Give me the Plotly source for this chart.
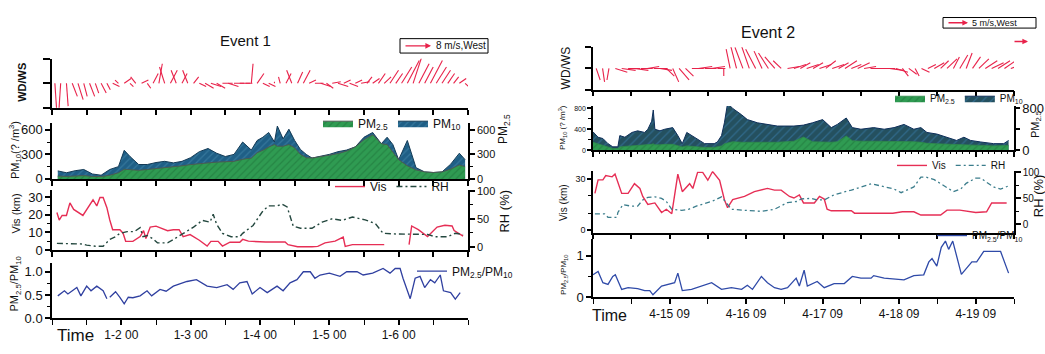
import pandas as pd
import plotly.graph_objects as go

W, H = 1045, 354
FONT = "Arial, Liberation Sans, sans-serif"


def px(x):
    return x / W


def py(y):
    return 1 - y / H


E1_START = pd.Timestamp("2000-01-01 00:00")
E1_END = pd.Timestamp("2000-01-07 00:00")
E2_START = pd.Timestamp("2000-04-14 09:00")
E2_END = pd.Timestamp("2000-04-19 21:00")

# ---------------- Event 1 data (hours since 1-1 00) ----------------
e1_xlabels = ["1-2 00", "1-3 00", "1-4 00", "1-5 00", "1-6 00"]
e1_xticks_h = [24, 48, 72, 96, 120]

e1_wind_h = list(range(1, 144, 2))
e1_wind_u = [0.5, -0.5, 0.5, 1.5, 1.5, 1, 1.5, 1, 1.5, 1, 2, -1, 2, 1, -1.5, 2, 1, 1.5,
             1, -1.5, 2, -1.5, 1.5, -1.5, 1.5, 2, 2.5, 3, 2.5, 3, 3, 3, 3, 2, 0.5, 2,
             2, 2, 0, -0.5, 1.5, -1.5, 1.5, 2, 2, 2.5, 3, 2, 2.5, 3, 2, 2.5, 2, 2.5,
             1.5, 2, 2, 2, 2.5, 2, 3, 3.5, 2.5, 3, 2.5, 3.5, 3, 2.5, 2, 1.5, 2, 1]
e1_wind_v = [-8, -8, -7, -4, -5, -4, -4, -3, -3, -2, -1, 1, 1.5, -1, 2, 1, -1.5, 3,
             6, 5, 4, 4, 3, 4, 2, -1, -1.5, -1, -1.5, 0, -1, 0, 0, 0, 6, 3,
             -1, -1, 0.5, 2, 3, 4, 3.5, 4, 1, 0, -1, -1.5, 0.5, -1, 1, -1, 1, 0.5,
             2, 1.5, 3, 2, 4, 3, 5, 7, 8, 6, 5, 7, 5, 4, 3, 2, 1.5, -1]

e1_pm_h = [2, 5, 8, 11, 14, 17, 20, 23, 25, 27, 30, 33, 36, 39, 42, 45, 48, 51, 54, 57,
           60, 63, 66, 69, 71, 73, 75, 77, 78, 80, 82, 84, 86, 88, 90, 93, 96, 99, 102,
           105, 108, 111, 114, 116, 118, 120, 123, 126, 129, 132, 135, 138, 141, 143]
e1_pm10 = [98, 75, 100, 115, 60, 45, 115, 150, 350, 274, 176, 176, 200, 215, 196, 215, 260,
           333, 372, 314, 274, 300, 451, 353, 470, 510, 568, 451, 647, 490, 608, 470, 360,
           300, 255, 274, 300, 333, 353, 392, 510, 568, 431, 510, 420, 235, 470, 137, 85,
           78, 85, 180, 314, 235]
e1_pm25 = [35, 30, 35, 40, 30, 28, 45, 75, 118, 115, 105, 115, 125, 140, 150, 160, 175,
           190, 196, 205, 210, 215, 240, 255, 320, 350, 390, 420, 400, 400, 420, 380, 300,
           260, 255, 270, 290, 310, 340, 392, 480, 540, 431, 420, 330, 235, 160, 110, 85,
           78, 85, 120, 170, 150]

e1_vis_h = [1.7, 2.5, 3.5, 5, 6.2, 7.5, 10.7, 13, 14.2, 15.5, 16.6, 17.7, 19, 20, 21, 23.5,
            24.6, 25.5, 28, 30.5, 31.7, 32.5, 34, 36, 38, 40, 42, 44, 45.4, 47.8, 51, 53.7,
            55, 57.5, 59, 61.6, 65, 66, 68, 70, 74, 77, 80.7, 81.7, 85, 90, 92, 94.5, 98,
            100.8, 101.5, 104, 115, 119, 123.6, 124.5, 126.8, 130, 133.3, 136, 138.5, 139.2,
            142.3]
e1_vis = [21.3, 17, 19.6, 19.6, 26.7, 23, 19.6, 25.8, 28.5, 25, 29.8, 29.8, 24, 17, 11.5,
          11.5, 9.5, 4.9, 4.9, 7.6, 11, 6.5, 13, 13.5, 12, 10.9, 11.5, 11.5, 7.6, 8.7, 5.5,
          2.2, 4.9, 4.9, 2.2, 4.4, 4.4, 6, 5, 4.7, 4.5, 4.5, 4.5, 3, 1.8, 1.8, 2, 4, 5,
          7.3, 2, 3, 3, None, 3, 13.6, 11.5, 7.6, 13, 14, 13.6, 11, 7.8]

e1_rh_h = [1.7, 6, 10.7, 12, 15, 17.7, 20, 22, 23.5, 26, 28.5, 30.5, 31.5, 33, 35, 36.5,
           40, 42, 45.4, 49, 52, 54.7, 55.8, 57, 59, 62, 65, 66, 69.6, 73, 75, 78, 79.6,
           81.4, 83.5, 86, 90, 93.5, 97, 100.4, 104, 108.4, 112, 114.6, 118, 124.7, 127,
           130, 132.6, 137, 139.6, 142.3]
e1_rh = [6, 6, 5, 3, 1, 1, 13, 18, 24, 27, 27, 34, 18, 20, 14, 7, 7, 13, 24, 35, 47, 44,
         58, 40, 24, 18, 18, 24, 38, 64, 73, 73, 76, 71, 37, 33, 33, 44, 50, 47, 53, 48,
         41, 24, 23, 23, 22, 22, 18, 18, 24, 22]

e1_ratio_h = [2, 3, 4.3, 5.5, 8.6, 10, 12, 13.5, 15.5, 17.7, 19, 19.5, 20, 22, 23.5, 25,
              26.4, 28, 30.5, 32.9, 34.5, 37.4, 39.5, 42, 46.7, 50, 53.7, 57, 60.6, 62.7,
              65, 67.5, 69.3, 72, 74.5, 77.9, 80, 82.4, 84.8, 87, 89.4, 91, 92.8, 96,
              99.7, 102, 105.6, 107.7, 111, 114.6, 117, 118.8, 120.5, 121.5, 124, 125.7,
              127.4, 129, 131, 132.5, 134.4, 135.5, 138, 139.6, 141.3]
e1_ratio = [0.48, 0.52, 0.59, 0.52, 0.66, 0.48, 0.69, 0.59, 0.69, 0.59, 0.42, None, 0.45,
            0.57, 0.45, 0.31, 0.45, 0.44, 0.48, 0.59, 0.48, 0.62, 0.58, 0.69, 0.79, 0.83,
            0.69, 0.66, 0.72, 0.62, 0.76, 0.79, 0.52, 0.66, 0.55, 0.69, 0.59, 0.76, 0.83,
            1.0, 1.0, 0.86, 0.93, 0.97, 0.9, 1.0, 1.0, 0.93, 0.97, 1.07, 0.97, 1.07, 1.07,
            0.86, 0.42, 0.86, 0.9, 0.66, 0.83, 0.76, 0.93, 0.59, 0.55, 0.41, 0.55]

# ---------------- Event 2 data (hours since 4-14 09) ----------------
e2_xlabels = ["4-15 09", "4-16 09", "4-17 09", "4-18 09", "4-19 09"]
e2_xticks_h = [24, 48, 72, 96, 120]

e2_wind_h = list(range(1, 132, 2))
e2_wind_u = [1, 0.5, -0.5, 3, 3.5, 3, 3.5, 3, 3, 3.5, 3, 2, 1.5, 2.5, 2, 3, 3.5, 3, 3.5,
             2, 0, -1, -1.5, -2, -2, -2.5, -2, -2.5, -2.5, -2, 3, 3, 2.5, 3, 2.5, 3, 2.5,
             3, 2.5, 3, 2.5, 3, 3, 3.5, 3.5, 3, 3.5, 3, 1.5, 2, 1, 2, 2, 2.5, 2, 2.5, 1.5,
             2, 1.5, 2, 2.5, 3, 3, 3, 3.5, 3]
e2_wind_v = [-3, -3.5, -3, -1, -0.5, 0, -0.5, 0, 0.5, 0, -0.5, -2, -3.5, -3, -2, 0, 0.5,
             0, 0.5, 0, -2, 5, 6, 5.5, 6, 5, 4.5, 4, 3, 2, 0.5, 1, 1.5, 1, 1.5, 1, 2, 1,
             1.5, 2, 1, 1.5, 0.5, 0, 0, 0, -0.5, -1, -2, -1.5, -2, -1, 1, 1.5, 2, 2.5, 3,
             3.5, 4, 3, 2.5, 2, 1.5, 2, 2.5, 1]

e2_pm_h = [0, 1.6, 3.1, 4.7, 6.2, 7.8, 8.4, 10, 12.2, 14, 16.2, 17.2, 18.4, 18.9, 19.4, 21,
           22.5, 25, 26.6, 28, 29.4, 31, 32.8, 35, 38, 39, 40.3, 41.2, 42.2, 43.8, 46.6,
           48.4, 51.6, 54.7, 57.8, 63, 66, 68.8, 72, 74.7, 76.6, 79.4, 81.3, 84, 88, 91.3,
           94.4, 97.5, 100.6, 102.8, 104.7, 107.8, 111, 114, 116.3, 118.4, 121.6, 125.6,
           128.8, 130.3]
e2_pm10 = [351, 246, 222, 124, 62, 62, 278, 247, 339, 370, 339, 401, 555, 771, 401, 370,
           401, 432, 278, 124, 339, 278, 222, 124, 124, 155, 278, 524, 900, 801, 678, 586,
           524, 493, 462, 462, 480, 524, 586, 432, 493, 617, 432, 401, 432, 401, 432, 493,
           401, 432, 339, 308, 247, 185, 247, 185, 155, 124, 124, 185]
e2_pm25 = [150, 120, 100, 60, 30, 30, 60, 70, 80, 90, 90, 100, 110, 120, 100, 100, 110,
           110, 90, 60, 80, 70, 60, 50, 50, 60, 80, 120, 140, 160, 150, 150, 140, 140, 150,
           170, 250, 160, 150, 150, 160, 270, 180, 170, 170, 170, 170, 170, 160, 150, 130,
           120, 110, 100, 100, 90, 90, 80, 80, 90]

e2_vis_h = [0.6, 1.6, 3.1, 4, 6, 6.9, 9, 11, 13, 14.7, 15.6, 17.2, 19.4, 21.5, 23, 24.7,
            26.6, 28, 30.3, 31.3, 32.8, 34.4, 36, 37.5, 39.7, 41.2, 42.2, 43.8, 47.5, 50.6,
            54.7, 56.9, 59, 61.6, 63, 64.7, 66, 69.4, 71, 72.5, 73.4, 74.7, 81, 82, 94, 97,
            100.6, 102.8, 109, 111, 115, 117, 120, 123.4, 125, 129.7]
e2_vis = [21.5, 29.4, 29.4, 31.9, 31.2, 32.8, 21.5, 21.5, 27.2, 24.4, 19.7, 15, 15.9, 10.3,
          12.2, 9.6, 32.8, 22.5, 27.2, 24.4, 33.8, 33.8, 29.2, 34.3, 29.2, 17.8, 13.1, 17.8,
          19.7, 22.5, 24.4, 23.4, 23.4, 19.7, 18.8, 20.6, 15.9, 15.9, 19.7, 18.2, 12.2,
          11.3, 11.3, 9.9, 9.9, 10.7, 10.7, 8.8, 8.8, 11.7, 11.7, 11.3, 10.3, 10.7, 15.9,
          15.9]

e2_rh_h = [0.6, 3.7, 4.7, 7.5, 7.8, 9.4, 12, 14, 15.6, 17.2, 19.4, 21.5, 23, 24.7, 27.8,
           30, 32.8, 37.2, 40.3, 41.8, 43.4, 47.5, 52.8, 56.9, 61, 64, 65.3, 68.4, 70.3,
           72.5, 75.6, 81, 87.2, 90.3, 94.4, 96.6, 100.6, 102.8, 104.4, 107, 110, 113,
           115.3, 117, 120, 121.6, 123.4, 125.6, 127.8, 130.3]
e2_rh = [20, 20, 13.5, 13.5, 23, 38, 35, 35, 47, 52, 53, 50, 44, 29, 27, 29, 36, 44, 53,
         42, 29, 27, 25, 29, 42, 44, 49, 50, 47, 47, 57, 66, 78, 74, 68, 61, 72, 91, 91,
         86, 74, 63, 68, 79, 89, 89, 81, 72, 68, 74]

e2_ratio_h = [0, 1.6, 3.1, 4.7, 6.2, 7, 9, 11, 14, 16.2, 17.8, 18.8, 21.5, 23.4, 25.6,
              26.6, 28, 30.9, 34, 37.2, 40.3, 43.4, 46.6, 48.4, 50, 52.8, 54.7, 56.9, 59,
              61, 63.7, 64.7, 66.2, 67.2, 70.3, 72.5, 75.6, 78.8, 81.3, 84, 87.2, 88, 91.3,
              97.5, 100.6, 103.7, 105.3, 106.3, 107.8, 109.2, 110.5, 111.5, 112.8, 113.8,
              115.5, 118.8, 120.3, 122.5, 127.8, 130.3]
e2_ratio = [0.54, 0.62, 0.35, 0.31, 0.5, 0.54, 0.19, 0.23, 0.21, 0.16, 0.16, 0.06, 0.27,
            0.31, 0.35, 0.58, 0.16, 0.19, 0.27, 0.35, 0.19, 0.23, 0.19, 0.29, 0.19, 0.5,
            0.35, 0.23, 0.19, 0.23, 0.46, 0.27, 0.65, 0.27, 0.38, 0.23, 0.33, 0.33, 0.5,
            0.46, 0.46, 0.52, 0.46, 0.42, 0.52, 0.54, 0.85, 0.93, 0.75, 1.2, 1.35, 1.15,
            1.35, 1.05, 0.55, 0.85, 0.85, 1.1, 1.1, 0.58]

# ---------------- helpers ----------------
RED = "#e62e55"
WIND_RED = "#e8224a"


def times(start, hours):
    return [start + pd.Timedelta(hours=h) for h in hours]


def wind_xy(start, hours, u, v, kx_h, ky):
    xs, ys = [], []
    for h, uu, vv in zip(hours, u, v):
        t = start + pd.Timedelta(hours=h)
        xs += [t, t + pd.Timedelta(hours=uu * kx_h), None]
        ys += [0, vv * ky, None]
    return xs, ys


fig = go.Figure()

# ---- Event 1 traces ----
wx, wy = wind_xy(E1_START, e1_wind_h, e1_wind_u, e1_wind_v, 1.18, 0.133)
fig.add_trace(go.Scatter(x=wx, y=wy, mode="lines", line=dict(color=WIND_RED, width=1.1),
                         xaxis="x", yaxis="y", showlegend=False, hoverinfo="skip"))

t = times(E1_START, e1_pm_h)
fig.add_trace(go.Scatter(x=t, y=e1_pm10, mode="lines", name="PM<sub>10</sub>",
                         fill="tozeroy", line=dict(color="#143a55", width=1),
                         fillcolor="#1f5f86",
                         fillpattern=dict(shape="/", bgcolor="#1f5f86", fgcolor="#4a8db0",
                                          size=5, solidity=0.25),
                         xaxis="x2", yaxis="y2", legend="legend"))
fig.add_trace(go.Scatter(x=t, y=e1_pm25, mode="lines", name="PM<sub>2.5</sub>",
                         fill="tozeroy", line=dict(color="#4c5a52", width=1),
                         fillcolor="#2f9b52",
                         fillpattern=dict(shape="/", bgcolor="#2f9b52", fgcolor="#1d7038",
                                          size=5, solidity=0.25),
                         xaxis="x2", yaxis="y3", legend="legend"))

fig.add_trace(go.Scatter(x=times(E1_START, e1_vis_h), y=e1_vis, mode="lines", name="Vis",
                         line=dict(color=RED, width=1.4), xaxis="x3", yaxis="y4",
                         legend="legend2", connectgaps=False))
fig.add_trace(go.Scatter(x=times(E1_START, e1_rh_h), y=e1_rh, mode="lines", name="RH",
                         line=dict(color="#24483f", width=1.4, dash="6px,3px,2px,3px"),
                         xaxis="x3", yaxis="y5", legend="legend2"))

fig.add_trace(go.Scatter(x=times(E1_START, e1_ratio_h), y=e1_ratio, mode="lines",
                         name="PM<sub>2.5</sub>/PM<sub>10</sub>",
                         line=dict(color="#3040a0", width=1.3), xaxis="x4", yaxis="y6",
                         legend="legend3", connectgaps=False))

# ---- Event 2 traces ----
wx, wy = wind_xy(E2_START, e2_wind_h, e2_wind_u, e2_wind_v, 1.25, 0.182)
fig.add_trace(go.Scatter(x=wx, y=wy, mode="lines", line=dict(color=WIND_RED, width=1.1),
                         xaxis="x5", yaxis="y7", showlegend=False, hoverinfo="skip"))

t = times(E2_START, e2_pm_h)
fig.add_trace(go.Scatter(x=t, y=e2_pm10, mode="lines", name="PM<sub>10</sub>",
                         fill="tozeroy", line=dict(color="#0f2f5a", width=1),
                         fillcolor="#24505f",
                         fillpattern=dict(shape="/", bgcolor="#24505f", fgcolor="#3b82b5",
                                          size=6, solidity=0.2),
                         xaxis="x6", yaxis="y8", legend="legend4"))
fig.add_trace(go.Scatter(x=t, y=e2_pm25, mode="lines", name="PM<sub>2.5</sub>",
                         fill="tozeroy", line=dict(color="#2f8a4a", width=0.8),
                         fillcolor="#2f9b52",
                         fillpattern=dict(shape="/", bgcolor="#2f9b52", fgcolor="#1d7038",
                                          size=5, solidity=0.25),
                         xaxis="x6", yaxis="y9", legend="legend4"))

fig.add_trace(go.Scatter(x=times(E2_START, e2_vis_h), y=e2_vis, mode="lines", name="Vis",
                         line=dict(color=RED, width=1.4), xaxis="x7", yaxis="y10",
                         legend="legend5"))
fig.add_trace(go.Scatter(x=times(E2_START, e2_rh_h), y=e2_rh, mode="lines", name="RH",
                         line=dict(color="#3b7d8c", width=1.3, dash="5px,3px,2px,3px"),
                         xaxis="x7", yaxis="y11", legend="legend5"))

fig.add_trace(go.Scatter(x=times(E2_START, e2_ratio_h), y=e2_ratio, mode="lines",
                         name="PM<sub>2.5</sub>/PM<sub>10</sub>",
                         line=dict(color="#2f4aa8", width=1.3), xaxis="x8", yaxis="y12",
                         legend="legend6"))

# ---------------- axes ----------------
TICKFONT = dict(family=FONT, size=13, color="#111")
BASE = dict(showline=True, linecolor="black", linewidth=1.5, ticks="outside", ticklen=5,
            tickwidth=1.5, tickcolor="black", showgrid=False, zeroline=False,
            tickfont=TICKFONT, fixedrange=True)


def minor(dtick, tick0=0, length=3):
    return dict(ticks="outside", ticklen=length, tickwidth=1.2, tickcolor="black",
                dtick=dtick, tick0=tick0, showgrid=False)


H12 = 43200000
lay = {}

# Event 1 x axes
e1_dom = [px(52), px(468)]
for name, anchor in [("xaxis", "y"), ("xaxis2", "y2"), ("xaxis3", "y4")]:
    lay[name] = dict(BASE, domain=e1_dom, anchor=anchor, type="date",
                     range=[E1_START, E1_END], tick0=E1_START, dtick=H12,
                     showticklabels=False)
lay["xaxis4"] = dict(BASE, domain=e1_dom, anchor="y6", type="date",
                     range=[E1_START, E1_END], tickmode="array",
                     tickvals=times(E1_START, e1_xticks_h), ticktext=e1_xlabels,
                     tickfont=dict(family=FONT, size=12, color="#111"),
                     minor=minor(H12, E1_START, 5))

# Event 1 y axes
lay["yaxis"] = dict(BASE, domain=[py(106), py(55)], anchor="x", range=[-1, 1],
                    tickvals=[-1, 0, 1], showticklabels=False, ticklen=7)
lay["yaxis2"] = dict(BASE, domain=[py(180), py(122)], anchor="x2", range=[0, 682],
                     tickvals=[0, 300, 600], minor=minor(150))
lay["yaxis3"] = dict(BASE, overlaying="y2", anchor="x2", side="right", range=[0, 682],
                     tickvals=[0, 300, 600], minor=minor(150),
                     tickfont=dict(family=FONT, size=11, color="#111"))
lay["yaxis4"] = dict(BASE, domain=[py(254), py(192)], anchor="x3", range=[0, 33.8],
                     tickvals=[0, 10, 20, 30], minor=minor(5))
lay["yaxis5"] = dict(BASE, overlaying="y4", anchor="x3", side="right",
                     range=[-5.65, 100.5], tickvals=[0, 50, 100], minor=minor(25),
                     tickfont=dict(family=FONT, size=11, color="#111"))
lay["yaxis6"] = dict(BASE, domain=[py(325), py(268)], anchor="x4", range=[0, 1.18],
                     tickvals=[0, 0.5, 1.0], ticktext=["0.0", "0.5", "1.0"],
                     minor=minor(0.25))

# Event 2 x axes
e2_dom = [px(593), px(1014)]
for name, anchor in [("xaxis5", "y7"), ("xaxis6", "y8"), ("xaxis7", "y10")]:
    lay[name] = dict(BASE, domain=e2_dom, anchor=anchor, type="date",
                     range=[E2_START, E2_END], tick0=E2_START, dtick=H12,
                     showticklabels=False)
lay["xaxis6"]["minor"] = minor(H12 / 6, E2_START, 2)
lay["xaxis8"] = dict(BASE, domain=e2_dom, anchor="y12", type="date",
                     range=[E2_START, E2_END], tickmode="array",
                     tickvals=times(E2_START, e2_xticks_h), ticktext=e2_xlabels,
                     tickfont=dict(family=FONT, size=12, color="#111"),
                     minor=minor(H12, E2_START, 5))

# Event 2 y axes
lay["yaxis7"] = dict(BASE, domain=[py(87), py(43)], anchor="x5", range=[-1, 1],
                     tickvals=[-1, 0, 1], showticklabels=False, ticklen=6)
lay["yaxis8"] = dict(BASE, domain=[py(150), py(104)], anchor="x6", range=[0, 850],
                     tickvals=[0, 400, 800], minor=minor(200),
                     tickfont=dict(family=FONT, size=7, color="#111"), ticklen=4)
lay["yaxis9"] = dict(BASE, overlaying="y8", anchor="x6", side="right", range=[0, 850],
                     tickvals=[0, 400, 800], ticktext=["0", "", "800"], ticklen=4,
                     tickfont=dict(family=FONT, size=13, color="#111"))
lay["yaxis10"] = dict(BASE, domain=[py(236), py(172)], anchor="x7", range=[-1.52, 34.5],
                      tickvals=[0, 30], minor=minor(10),
                      tickfont=dict(family=FONT, size=9, color="#111"), ticklen=4)
lay["yaxis11"] = dict(BASE, overlaying="y10", anchor="x7", side="right",
                      range=[-16.1, 102.4], tickvals=[0, 50, 100], minor=minor(25),
                      tickfont=dict(family=FONT, size=10, color="#111"))
lay["yaxis12"] = dict(BASE, domain=[py(303.3), py(243)], anchor="x8", range=[0, 1.39],
                      tickvals=[0, 1], minor=minor(0.5),
                      tickfont=dict(family=FONT, size=13, color="#111"))

fig.update_layout(**lay)

# ---------------- legends ----------------
LEG = dict(orientation="h", xanchor="left", yanchor="middle", bgcolor="rgba(0,0,0,0)",
           borderwidth=0, itemwidth=30, tracegroupgap=0)
fig.update_layout(
    legend=dict(LEG, x=px(318), y=py(122), traceorder="reversed",
                font=dict(family=FONT, size=12, color="#111")),
    legend2=dict(LEG, x=px(330), y=py(188), font=dict(family=FONT, size=12, color="#111")),
    legend3=dict(LEG, x=px(412), y=py(276), font=dict(family=FONT, size=12, color="#111")),
    legend4=dict(LEG, x=px(890), y=py(96), traceorder="reversed",
                 font=dict(family=FONT, size=10, color="#111")),
    legend5=dict(LEG, x=px(892), y=py(166), font=dict(family=FONT, size=10, color="#111")),
    legend6=dict(LEG, x=px(932), y=py(239), font=dict(family=FONT, size=10, color="#111")),
)

# ---------------- text ----------------
ann = []


def txt(x, y, s, size, angle=0, anchor="center", bold=False):
    ann.append(dict(x=px(x), y=py(y), xref="paper", yref="paper", text=s, showarrow=False,
                    textangle=angle, xanchor=anchor, yanchor="middle",
                    font=dict(family=FONT, size=size, color="#111",
                              weight="bold" if bold else "normal")))


txt(245, 36, "Event 1", 15)
txt(768, 28, "Event 2", 16)

txt(22, 80, "WD/WS", 11, -90, bold=True)
txt(15, 150, "PM<sub>10</sub>(? /m<sup>3</sup>)", 11, -90)
txt(504, 128, "PM<sub>2.5</sub>", 12, -90)
txt(16, 216, "Vis (km)", 11, -90)
txt(505, 214, "RH (%)", 13, -90)
txt(15, 290, "PM<sub>2.5</sub>/PM<sub>10</sub>", 11, -90)
txt(75, 343, "Time", 17)

txt(566, 65, "WD/WS", 12, -90)
txt(563, 127, "PM<sub>10</sub> (? /m<sup>3</sup>)", 8, -90)
txt(1036, 124, "PM<sub>2.5</sub>", 11, -90)
txt(564, 205, "Vis (km)", 10, -90)
txt(1038, 198, "RH (%)", 13, -90)
txt(564, 280, "PM<sub>2.5</sub>/PM<sub>10</sub>", 8, -90)
txt(609, 322, "Time", 16)

# wind scale keys
txt(434, 41.5, "8 m/s,West", 10, anchor="left")
txt(970, 17.5, "5 m/s,West", 9, anchor="left")
for (hx, hy, dx) in [(431, 41.5, -27), (968, 17.5, -21), (1028, 37, -15)]:
    ann.append(dict(x=px(hx), y=py(hy), xref="paper", yref="paper", text="",
                    showarrow=True, ax=dx, ay=0, arrowhead=2, arrowsize=0.8,
                    arrowwidth=1.4, arrowcolor=WIND_RED))

shapes = [
    dict(type="rect", xref="paper", yref="paper", x0=px(400), x1=px(488), y0=py(49),
         y1=py(34), line=dict(color="black", width=1)),
    dict(type="rect", xref="paper", yref="paper", x0=px(943), x1=px(1036), y0=py(23),
         y1=py(12), line=dict(color="black", width=1)),
]

fig.update_layout(width=W, height=H, autosize=False,
                  margin=dict(l=0, r=0, t=0, b=0),
                  paper_bgcolor="white", plot_bgcolor="rgba(0,0,0,0)",
                  font=dict(family=FONT, color="#111"),
                  annotations=ann, shapes=shapes)

# remove the browser's default 8px body margin so the figure sits at (0, 0)
fig.write_html("out.html",
               config={"displayModeBar": False},
               post_script="document.body.style.margin='0';"
                           "document.body.style.overflow='hidden';")
